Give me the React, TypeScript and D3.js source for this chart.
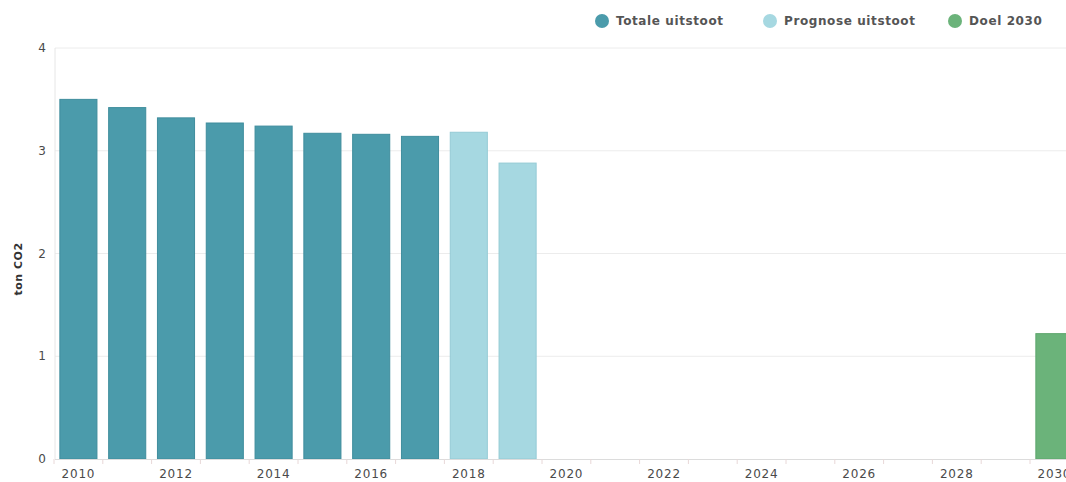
import React from "react";
import * as d3 from "d3";

const years = ["2010","2011","2012","2013","2014","2015","2016","2017","2018","2019","2020","2021","2022","2023","2024","2025","2026","2027","2028","2029","2030"];
const totaleYears = ["2010","2011","2012","2013","2014","2015","2016","2017"];
const totaleValues = [3.5, 3.42, 3.32, 3.27, 3.24, 3.17, 3.16, 3.14];
const prognoseYears = ["2018","2019"];
const prognoseValues = [3.18, 2.88];
const doelYears = ["2030"];
const doelValues = [1.22];
const yTicks = [0, 1, 2, 3, 4];
const xTickLabels = ["2010","2012","2014","2016","2018","2020","2022","2024","2026","2028","2030"];
const legendLabels = ["Totale uitstoot", "Prognose uitstoot", "Doel 2030"];

const COLORS = ["#4b9bab", "#a6d8e1", "#6bb37a"];
const STROKES = ["#3f8d9d", "#95cbd5", "#5ea66d"];

export default function App() {
  const W = 1066, H = 482;
  const left = 55, top = 48, bottom = 459;
  const x = d3.scaleBand().domain(years).range([left - 1, left - 1 + 21 * 48.8]).paddingInner(0.24).paddingOuter(0.12);
  const y = d3.scaleLinear().domain([0, 4]).range([bottom, top]);
  const font = "'DejaVu Sans', 'Open Sans', sans-serif";
  const series = [
    { ys: totaleYears, vs: totaleValues },
    { ys: prognoseYears, vs: prognoseValues },
    { ys: doelYears, vs: doelValues },
  ];
  const legendX = [602, 770, 955];
  const step = x.step();
  return (
    <svg width={W} height={H} style={{ position: "absolute", left: 0, top: 0, display: "block", background: "#fff" }} fontFamily={font}>
      {yTicks.map((t) => (
        <g key={t}>
          {t > 0 && <line x1={left} x2={W} y1={y(t)} y2={y(t)} stroke="#ececec" strokeWidth={1} />}
          <text x={46} y={y(t)} dy="0.35em" textAnchor="end" fontSize={12} fill="#4a4a4a">{t}</text>
        </g>
      ))}
      <line x1={left} x2={left} y1={top} y2={bottom} stroke="#e6e6e6" />
      {series.map((s, si) =>
        s.ys.map((yr, i) => (
          <rect key={si + yr} x={x(yr)} y={y(s.vs[i])} width={x.bandwidth()} height={bottom - y(s.vs[i])}
            fill={COLORS[si]} stroke={STROKES[si]} strokeWidth={1} />
        ))
      )}
      <line x1={left} x2={W} y1={bottom + 0.5} y2={bottom + 0.5} stroke="#dcdcdc" />
      {years.map((yr) => (
        <line key={"t" + yr} x1={(x(yr) as number) - (step - x.bandwidth()) / 2} x2={(x(yr) as number) - (step - x.bandwidth()) / 2}
          y1={bottom} y2={bottom + 5} stroke="#e8d8d8" />
      ))}
      {xTickLabels.map((yr) => (
        <text key={"l" + yr} x={(x(yr) as number) + x.bandwidth() / 2} y={478} textAnchor="middle" fontSize={12} letterSpacing={0.8} fill="#4a4a4a">{yr}</text>
      ))}
      <text transform={`translate(22,${y(1.85)}) rotate(-90)`} textAnchor="middle" fontSize={11} fontWeight="bold" fill="#333" letterSpacing={0.5}>ton CO2</text>
      {legendLabels.map((l, i) => (
        <g key={l}>
          <circle cx={legendX[i]} cy={21} r={7} fill={COLORS[i]} />
          <text x={legendX[i] + 14} y={21} dy="0.35em" fontSize={12} fontWeight="bold" letterSpacing={0.6} fill="#555">{l}</text>
        </g>
      ))}
    </svg>
  );
}
